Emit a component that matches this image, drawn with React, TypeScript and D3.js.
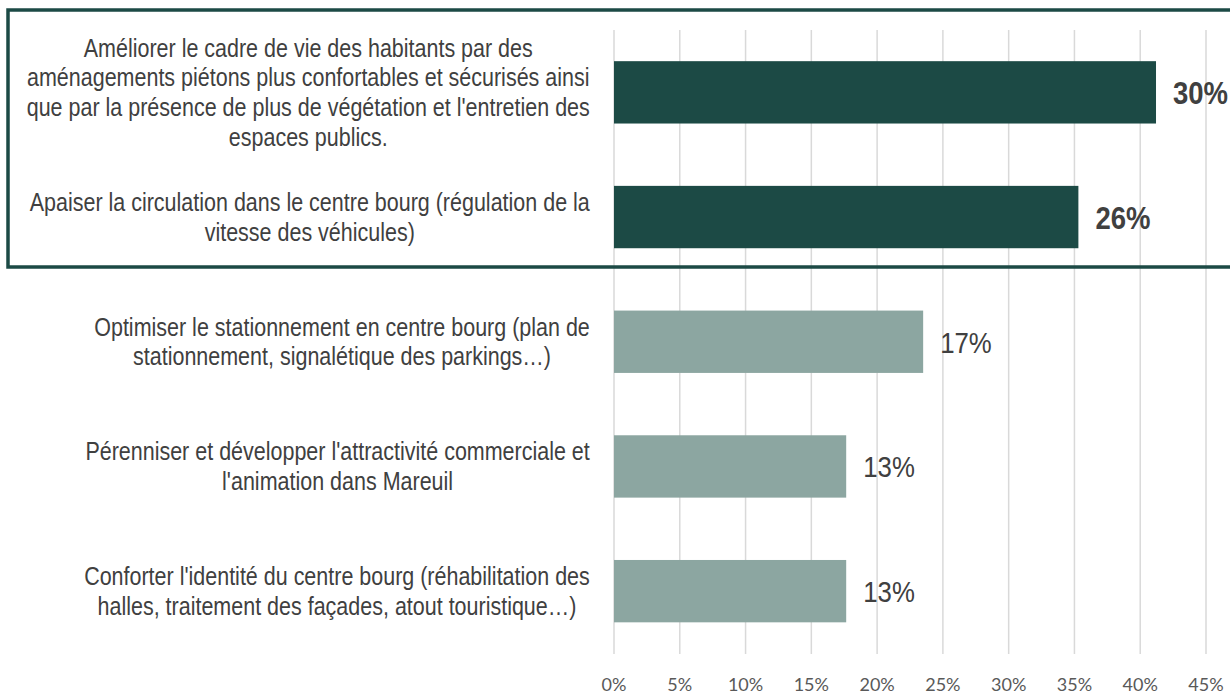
import React, { useRef, useEffect } from 'react';
import * as d3 from 'd3';

const categories = [
  ['Améliorer le cadre de vie des habitants par des', 'aménagements piétons plus confortables et sécurisés ainsi', "que par la présence de plus de végétation et l'entretien des", 'espaces publics.'],
  ['Apaiser la circulation dans le centre bourg (régulation de la', 'vitesse des véhicules)'],
  ['Optimiser le stationnement en centre bourg (plan de', 'stationnement, signalétique des parkings…)'],
  ["Pérenniser et développer l'attractivité commerciale et", "l'animation dans Mareuil"],
  ["Conforter l'identité du centre bourg (réhabilitation des", 'halles, traitement des façades, atout touristique…)'],
];
// bar lengths as drawn against the axis, and the labels printed next to them
const barValues = [41.2, 35.3, 23.5, 17.65, 17.65];
const valueLabels = ['30%', '26%', '17%', '13%', '13%'];
const highlighted = [true, true, false, false, false];
const xTicks = [0, 5, 10, 15, 20, 25, 30, 35, 40, 45];

const W = 1230;
const H = 694;
const dark = '#1c4a45';
const light = '#8ca6a1';
const sans = "'Liberation Sans', Arial, sans-serif";
// Arial squeezed horizontally stands in for Arial Narrow
const narrowX = 0.86;

const App = () => {
  const svgRef = useRef<SVGSVGElement>(null);

  useEffect(() => {
    const svg = d3.select(svgRef.current);
    svg.selectAll('*').remove();

    const x = d3.scaleLinear().domain([0, 45]).range([614, 1206]);
    const ids = categories.map((_, i) => i);
    const y = d3.scaleBand<number>().domain(ids).range([30, 653.5]).paddingInner(0.5).paddingOuter(0.25);

    svg.append('g')
      .selectAll('line')
      .data(xTicks)
      .join('line')
      .attr('x1', d => x(d))
      .attr('x2', d => x(d))
      .attr('y1', 30)
      .attr('y2', 654)
      .attr('stroke', '#d9d9d9')
      .attr('stroke-width', 1.5);

    svg.append('g')
      .selectAll('text')
      .data(xTicks)
      .join('text')
      .attr('x', d => x(d))
      .attr('y', 691)
      .attr('text-anchor', 'middle')
      .attr('font-family', 'Lato, sans-serif')
      .attr('font-size', 18)
      .attr('fill', '#595959')
      .text(d => `${d}%`);

    svg.append('g')
      .selectAll('rect')
      .data(ids)
      .join('rect')
      .attr('x', x(0))
      .attr('y', i => y(i)!)
      .attr('width', i => x(barValues[i]) - x(0))
      .attr('height', y.bandwidth())
      .attr('fill', i => (highlighted[i] ? dark : light));

    svg.append('g')
      .selectAll('text')
      .data(ids)
      .join('text')
      .attr('transform', i => `translate(${x(barValues[i]) + 17},${y(i)! + y.bandwidth() / 2}) scale(${narrowX},1)`)
      .attr('dy', '0.36em')
      .attr('font-family', sans)
      .attr('font-size', i => (highlighted[i] ? 32 : 30))
      .attr('font-weight', i => (highlighted[i] ? 'bold' : 'normal'))
      .attr('fill', '#404040')
      .text(i => valueLabels[i]);

    // category labels: lines centred on each other, block right-aligned to the plot
    const lineH = 29.7;
    const right = 590;
    const labels = svg.append('g');
    ids.forEach(i => {
      const lines = categories[i];
      const g = labels.append('g');
      const cy = y(i)! + y.bandwidth() / 2;
      const texts = g.selectAll('text')
        .data(lines)
        .join('text')
        .attr('dy', '0.35em')
        .attr('text-anchor', 'middle')
        .attr('font-family', sans)
        .attr('font-size', 25)
        .attr('fill', '#404040')
        .text(d => d);
      let maxW = 0;
      texts.each(function () {
        maxW = Math.max(maxW, (this as SVGTextElement).getComputedTextLength() * narrowX);
      });
      const cx = right - maxW / 2;
      texts.attr('transform', (_, k) => {
        const ly = cy + (k - (lines.length - 1) / 2) * lineH;
        return `translate(${cx},${ly}) scale(${narrowX},1)`;
      });
    });

    svg.append('rect')
      .attr('x', 8)
      .attr('y', 10)
      .attr('width', 1240)
      .attr('height', 257)
      .attr('fill', 'none')
      .attr('stroke', dark)
      .attr('stroke-width', 3.5);
  }, []);

  return (
    <svg
      ref={svgRef}
      width={W}
      height={H}
      style={{ position: 'absolute', left: 0, top: 0, background: '#fff' }}
    />
  );
};

export default App;
